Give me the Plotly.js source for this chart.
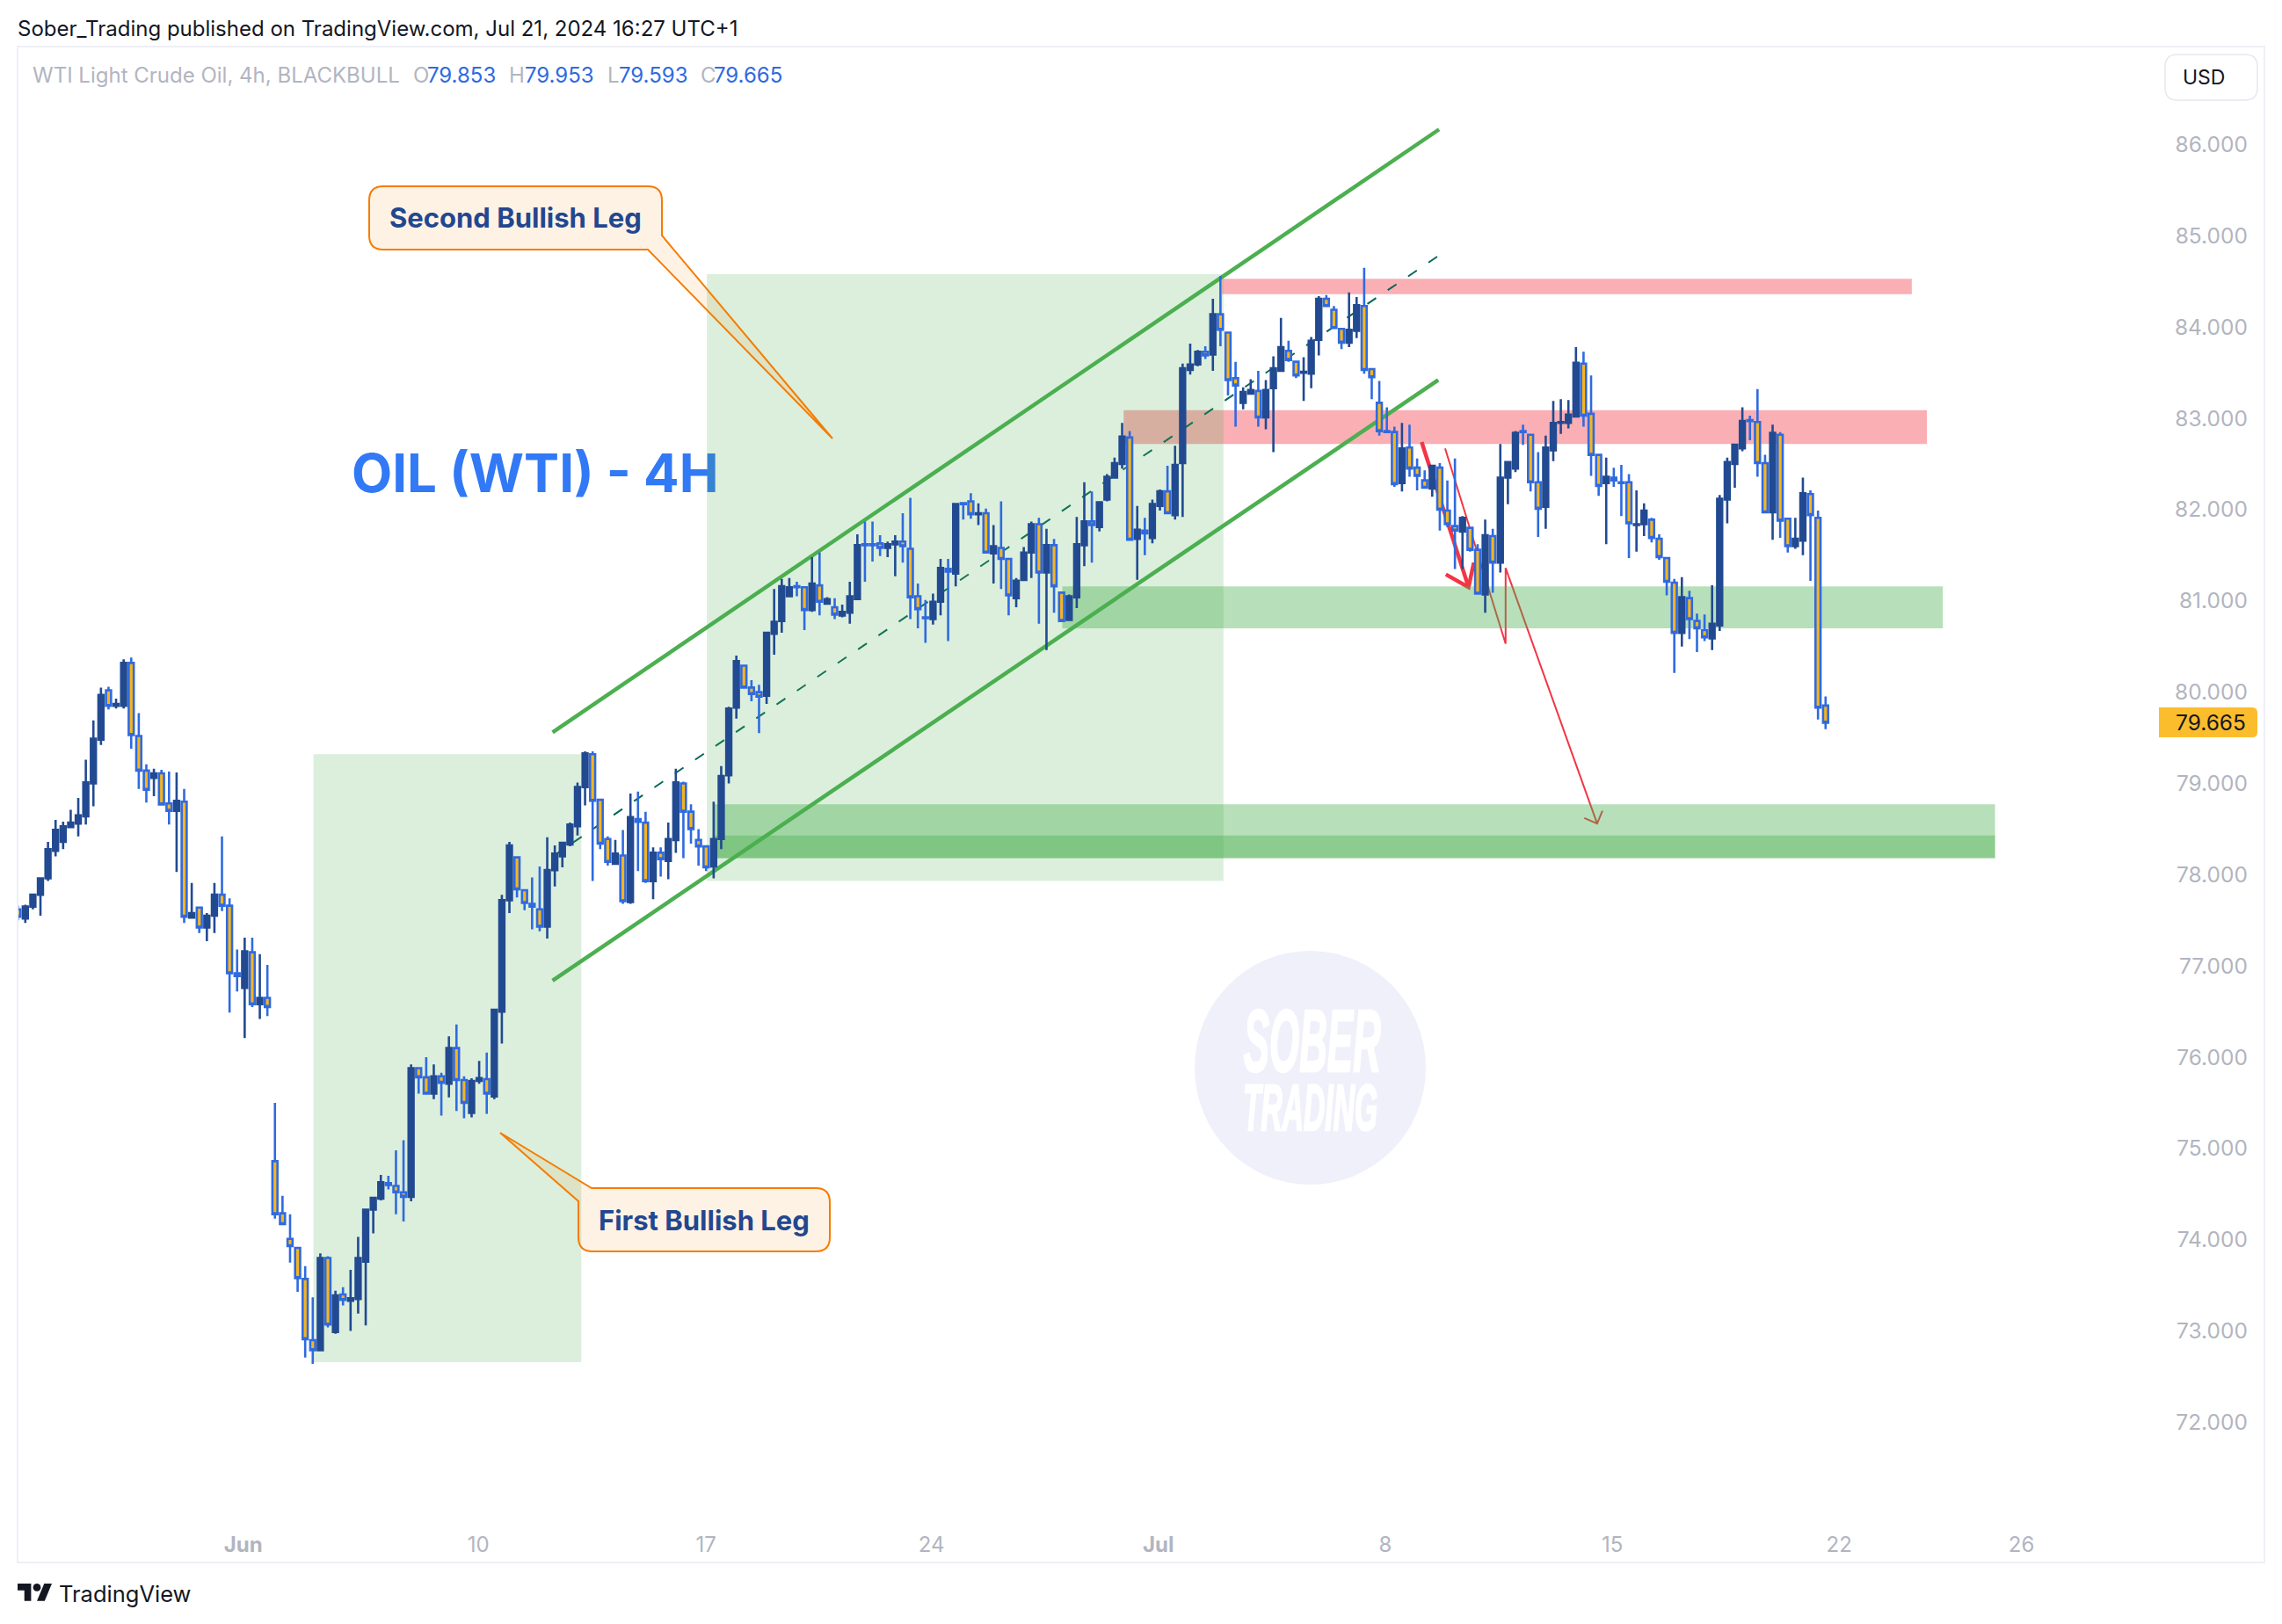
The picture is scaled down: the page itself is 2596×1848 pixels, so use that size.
<!DOCTYPE html>
<html>
<head>
<meta charset="utf-8">
<script src="https://cdn.plot.ly/plotly-3.0.1.min.js"></script>
<style>html,body{margin:0;padding:0;background:#fff}#chart{width:2596px;height:1848px}</style>
</head>
<body>
<div id="chart"></div>
<script>
const open = [77.62,77.52,77.65,77.78,77.96,78.26,78.36,78.52,78.56,78.64,
79.00,79.48,80.02,79.85,79.85,80.32,79.52,79.14,79.06,79.11,
78.78,78.70,78.80,77.53,77.64,77.42,77.55,77.78,77.66,76.92,
76.76,77.15,76.58,76.65,74.86,74.29,74.01,73.91,73.57,72.90,
72.79,73.80,72.99,73.40,73.33,73.35,73.76,74.33,74.45,74.62,
74.59,74.52,74.47,75.88,75.78,75.60,75.79,75.71,76.10,75.75,
75.39,75.74,75.76,75.57,76.50,77.72,78.19,77.83,77.68,77.62,
77.43,78.05,78.20,78.33,78.53,78.96,79.32,78.82,78.39,78.12,
78.21,77.70,78.61,78.57,77.93,78.24,78.15,78.38,79.00,78.69,
78.38,78.31,78.09,78.39,79.09,79.83,80.29,80.05,80.00,79.96,
80.64,80.78,81.05,81.16,81.15,80.90,81.17,80.97,80.93,80.84,
80.87,81.02,81.62,81.62,81.63,81.58,81.62,81.65,81.57,81.05,
80.82,80.80,80.99,81.35,81.30,82.07,82.09,81.95,81.96,81.52,
81.58,81.46,81.03,81.23,81.53,81.84,81.31,81.61,81.09,80.79,
81.04,81.61,81.87,81.81,82.11,82.35,82.50,82.79,81.68,81.77,
81.69,82.04,82.20,81.94,82.51,83.53,83.59,83.73,83.70,84.14,
83.94,83.44,83.17,83.27,83.30,83.01,83.33,83.52,83.74,83.62,
83.50,83.49,83.86,84.31,84.19,83.98,83.83,83.96,84.23,83.54,
83.17,82.86,82.85,82.29,82.68,82.46,82.32,82.23,82.46,81.99,
81.82,81.76,81.80,81.56,81.07,81.71,81.42,82.35,82.45,82.86,
82.82,82.30,82.03,82.65,82.95,82.95,83.02,83.60,83.05,82.60,
82.29,82.35,82.30,82.30,81.83,81.84,81.89,81.68,81.47,81.20,
80.65,81.03,80.78,80.68,80.59,80.73,82.11,82.50,82.67,82.98,
82.96,82.51,81.97,82.82,81.90,81.60,81.66,82.17,81.91,79.853];
const high = [77.66,77.67,77.78,77.97,78.36,78.60,78.58,78.71,78.84,79.26,
79.69,80.05,80.06,79.93,80.36,80.38,79.77,79.21,79.16,79.15,
79.13,79.12,78.94,77.91,77.64,77.58,77.91,78.42,77.74,77.18,
77.31,77.31,77.13,77.01,75.50,74.48,74.28,73.91,73.71,73.37,
73.85,73.82,73.44,73.48,73.67,74.03,74.34,74.47,74.71,74.70,
74.98,75.09,75.92,75.88,76.00,75.92,75.83,76.23,76.36,75.79,
75.77,75.96,76.05,76.53,77.78,78.36,78.20,77.84,77.97,78.09,
78.41,78.32,78.36,78.57,79.01,79.35,79.35,78.82,78.42,78.38,
78.49,78.89,78.91,78.69,78.30,78.30,78.57,79.16,79.02,78.77,
78.50,78.31,78.80,79.19,79.84,80.40,80.30,80.13,80.08,80.66,
81.13,81.24,81.25,81.21,81.16,81.48,81.53,81.04,81.03,80.96,
81.21,81.73,81.87,81.87,81.72,81.65,81.72,81.96,82.13,81.19,
81.01,81.08,81.46,81.46,82.07,82.07,82.18,82.07,82.01,81.83,
82.09,81.46,81.25,81.59,81.87,81.91,81.79,81.68,81.09,81.07,
81.92,82.30,82.20,82.08,82.39,82.57,82.95,82.86,82.04,81.91,
82.11,82.22,82.48,82.70,83.60,83.82,83.75,83.79,84.31,84.56,
83.94,83.62,83.34,83.43,83.52,83.42,83.68,84.10,83.85,83.62,
83.67,83.89,84.34,84.35,84.23,83.98,84.38,84.33,84.65,83.54,
83.41,83.12,82.91,82.95,82.93,82.56,82.43,82.49,82.51,82.32,
82.56,81.93,81.80,81.62,81.89,81.79,82.72,82.53,82.86,82.93,
82.82,82.63,82.81,83.19,83.21,83.20,83.78,83.73,83.47,82.60,
82.57,82.46,82.49,82.39,82.21,82.07,81.91,81.73,81.47,81.24,
81.26,81.11,80.86,80.85,81.17,82.16,82.57,82.71,83.12,83.03,
83.32,82.60,82.93,82.85,81.90,81.91,82.35,82.21,81.99,79.953];
const low = [77.50,77.47,77.62,77.55,77.93,78.20,78.28,78.52,78.42,78.55,
78.75,79.42,79.81,79.82,79.82,79.38,78.94,78.79,78.86,78.77,
78.55,78.03,77.47,77.53,77.36,77.27,77.36,77.60,76.49,76.72,
76.21,76.55,76.42,76.45,74.23,74.17,73.75,73.43,72.71,72.64,
72.79,73.04,72.97,73.28,73.00,73.19,73.06,74.07,74.43,74.55,
74.28,74.20,74.42,75.60,75.60,75.54,75.36,75.56,75.41,75.33,
75.34,75.71,75.38,75.54,76.15,77.58,77.75,77.61,77.40,77.38,
77.30,77.87,78.08,78.31,78.43,78.76,77.93,78.28,78.10,78.12,
77.68,77.68,78.04,77.91,77.73,77.98,77.95,78.24,78.18,78.34,
78.10,78.04,77.96,78.28,79.00,79.71,80.05,79.90,79.55,79.87,
80.41,80.65,81.05,81.05,80.68,80.88,80.84,80.97,80.80,80.82,
80.75,81.01,81.21,81.43,81.49,81.48,81.27,81.42,80.80,80.70,
80.54,80.74,80.84,80.56,81.16,81.89,81.90,81.83,81.52,81.19,
81.13,80.84,80.93,81.23,81.25,80.75,80.46,80.87,80.78,80.78,
80.92,81.38,81.42,81.76,82.09,82.35,82.45,81.67,81.23,81.50,
81.63,81.99,81.96,81.89,81.92,83.48,83.57,83.65,83.52,83.79,
83.25,82.91,83.10,83.27,82.91,82.88,82.63,83.51,83.62,83.44,
83.19,83.33,83.69,84.23,83.99,83.76,83.78,83.88,83.49,83.21,
82.81,82.84,82.25,82.20,82.36,82.21,82.23,82.14,81.77,81.81,
81.35,81.35,81.54,81.08,80.87,81.09,81.31,82.06,82.41,82.71,
82.20,81.70,81.79,82.53,82.83,82.89,83.02,82.91,82.37,82.15,
81.62,82.25,81.93,81.47,81.54,81.71,81.64,81.45,81.06,80.21,
80.50,80.58,80.44,80.56,80.46,80.67,81.85,82.24,82.64,82.76,
82.36,81.96,81.67,81.69,81.53,81.57,81.50,81.22,79.70,79.593];
const close = [77.54,77.65,77.78,77.96,78.28,78.49,78.53,78.57,78.65,79.01,
79.49,79.97,79.85,79.87,80.32,79.53,79.14,78.93,79.11,78.77,
78.70,78.81,77.54,77.58,77.42,77.55,77.78,77.66,76.92,76.89,
77.16,76.58,76.65,76.55,74.28,74.17,73.93,73.58,72.91,72.79,
73.80,73.07,73.39,73.34,73.36,73.80,74.33,74.46,74.63,74.60,
74.52,74.47,75.88,75.78,75.60,75.79,75.72,76.10,75.75,75.50,
75.74,75.77,75.60,76.52,77.72,78.32,77.84,77.69,77.65,77.43,
78.05,78.23,78.35,78.55,78.96,79.33,78.81,78.34,78.14,78.23,
77.71,78.63,78.58,77.93,78.24,78.17,78.39,79.01,78.69,78.50,
78.31,78.08,78.39,79.08,79.82,80.34,80.05,79.98,79.95,80.65,
80.77,81.16,81.15,81.15,80.90,81.19,80.99,81.02,80.85,80.88,
81.05,81.61,81.61,81.61,81.58,81.62,81.65,81.60,81.04,80.91,
80.81,80.99,81.36,81.32,82.06,82.06,81.95,81.96,81.53,81.60,
81.46,81.06,81.22,81.53,81.84,81.31,81.61,81.16,80.78,81.05,
81.62,81.87,81.83,82.08,82.36,82.51,82.80,81.67,81.78,81.74,
82.06,82.20,81.96,82.49,83.55,83.59,83.73,83.69,84.14,83.97,
83.42,83.36,83.29,83.31,83.01,83.31,83.55,83.78,83.64,83.47,
83.51,83.85,84.31,84.23,83.99,83.83,83.97,84.24,83.53,83.45,
82.86,82.85,82.28,82.67,82.45,82.37,82.24,82.48,82.00,81.84,
81.77,81.91,81.56,81.08,81.72,81.42,82.35,82.52,82.84,82.85,
82.30,82.01,82.68,82.95,82.96,83.04,83.61,83.03,82.60,82.26,
82.36,82.32,82.29,81.85,81.84,81.99,81.69,81.48,81.21,80.65,
81.04,80.80,80.70,80.60,80.75,82.12,82.52,82.71,82.97,82.97,
82.51,81.97,82.84,81.88,81.60,81.68,82.18,81.94,79.83,79.665];
const barIndex = open.map((_, i) => i);

const priceTicks = [86,85,84,83,82,81,80,79,78,77,76,75,74,73,72];
const dateTickBars = [1.72,29.8,60.9,91.0,120.8,150.8,180.8,210.8,240.8,264.9];
const dateTickLabels = ['27','<b>Jun</b>','10','17','24','<b>Jul</b>','8','15','22','26'];

// drawings, as [bar, price]
const channelUpper = [[70.7,79.56],[187.9,86.166]];
const channelLower = [[70.7,76.84],[187.8,83.42]];
const channelMiddle = [[70.7,78.20],[187.8,84.78]];
const boxFirstLeg = [39.1,74.5,72.66,79.32];
const boxSecondLeg = [91.1,159.4,77.93,84.58];
const redZoneTop = [159.2,250.4,84.36,84.53];
const redZoneMid = [146.2,252.4,82.72,83.09];
const greenZoneMid = [138.1,254.5,80.70,81.16];
const greenZoneLowA = [92.1,261.4,78.18,78.77];
const greenZoneLowB = [92.1,261.4,78.18,78.43];
const arrowThick = [[185.6,82.74],[191.8,81.15]];
const arrowThickHead = [[188.8,81.29],[191.8,81.15],[192.5,81.42]];
const arrowThin = [[188.7,82.67],[196.7,80.53],[196.7,81.36],[208.8,78.56]];
const arrowThinHead = [[207.1,78.62],[208.8,78.56],[209.5,78.70]];

const L = 21, R = 2575, T = 54, B = 1777, W = 2596, H = 1848;
const PX = p => (p - L) / (R - L), PY = p => 1 - (p - T) / (B - T);
const poly = pts => 'M ' + pts.map(p => p[0] + ',' + p[1]).join(' L ');
const pathPaper = segs => segs.map(s => {
  if (s[0] === 'Z') return 'Z';
  const c = [];
  for (let i = 1; i < s.length; i += 2) c.push(PX(s[i]) + ',' + PY(s[i + 1]));
  return s[0] + ' ' + c.join(' ');
}).join(' ');
const rect = (b, color) => ({type:'rect',layer:'below',xref:'x',yref:'y',x0:b[0],x1:b[1],y0:b[2],y1:b[3],fillcolor:color,line:{width:0}});
const line = (pts, color, width, dash) => ({type:'path',layer:'below',xref:'x',yref:'y',path:poly(pts),line:{color,width,dash:dash||'solid'}});
const G2 = 'rgba(76,175,80,0.2)', G4 = 'rgba(76,175,80,0.4)', RD = 'rgba(242,54,69,0.4)';
const orange = '#f57c00', bubble = 'rgba(245,124,0,0.1)';

const shapes = [
  {type:'circle',layer:'below',xref:'paper',yref:'paper',x0:PX(1359),x1:PX(1622),y0:PY(1348),y1:PY(1082),fillcolor:'#f0f0fb',line:{width:0}},
  rect(redZoneTop, RD), rect(redZoneMid, RD),
  line(arrowThick,'#f23645',4.5), line(arrowThickHead,'#f23645',4.5),
  line(arrowThin,'#f23645',2), line(arrowThinHead,'#f23645',2),
  line(channelUpper,'#4caf50',4.5), line(channelLower,'#4caf50',4.5),
  line(channelMiddle,'#056656',2,'12px,16px'),
  {type:'rect',layer:'below',xref:'x',yref:'y',x0:40.3,x1:96.5,y0:82.0,y1:82.84,fillcolor:'rgba(0,0,0,0)',line:{width:0},
   label:{text:'OIL (WTI) - 4H',textposition:'middle center',font:{family:'Inter, sans-serif',size:60,color:'#3179f5',weight:700}}},
  rect(boxFirstLeg, G2), rect(boxSecondLeg, G2),
  rect(greenZoneMid, G4), rect(greenZoneLowA, G4), rect(greenZoneLowB, G4),
  {type:'path',layer:'above',xref:'paper',yref:'paper',fillcolor:bubble,line:{color:orange,width:2},
   path:pathPaper([['M',436,212],['L',737,212],['Q',753,212,753,228],['L',753,268],['L',947,499],['L',737,284],['L',436,284],['Q',420,284,420,268],['L',420,228],['Q',420,212,436,212],['Z']])},
  {type:'path',layer:'above',xref:'paper',yref:'paper',fillcolor:bubble,line:{color:orange,width:2},
   path:pathPaper([['M',673,1352],['L',928,1352],['Q',944,1352,944,1368],['L',944,1408],['Q',944,1424,928,1424],['L',674,1424],['Q',658,1424,658,1408],['L',658,1367],['L',569,1289],['Z']])},
  {type:'path',layer:'above',xref:'paper',yref:'paper',fillcolor:'#ffffff',line:{color:'#e6e8ef',width:1.5},
   path:pathPaper([['M',2477,62],['L',2554,62],['Q',2568,62,2568,76],['L',2568,100],['Q',2568,114,2554,114],['L',2477,114],['Q',2463,114,2463,100],['L',2463,76],['Q',2463,62,2477,62],['Z']])},
  {type:'path',layer:'above',xref:'paper',yref:'paper',fillcolor:'#fcbd2c',line:{width:0},
   path:pathPaper([['M',2456,805],['L',2562,805],['Q',2568,805,2568,811],['L',2568,833],['Q',2568,839,2562,839],['L',2456,839],['Z']])},
  // TradingView mark
  {type:'path',layer:'above',xref:'paper',yref:'paper',fillcolor:'#131722',line:{width:0},
   path:pathPaper([['M',35.4,1821.8],['L',27.7,1821.8],['L',27.7,1809.7],['L',20,1809.7],['L',20,1802],['L',35.4,1802],['Z']])},
  {type:'path',layer:'above',xref:'paper',yref:'paper',fillcolor:'#131722',line:{width:0},
   path:pathPaper([['M',50.8,1821.8],['L',42,1821.8],['L',50.3,1802],['L',59,1802],['Z']])},
  {type:'circle',layer:'above',xref:'paper',yref:'paper',x0:PX(37.6),x1:PX(46.4),y0:PY(1810.8),y1:PY(1802),fillcolor:'#131722',line:{width:0}}
];

const note = (text, x, y, size, color, anchor, extra) => Object.assign({
  text, xref:'paper', yref:'paper', x:PX(x), y:PY(y), xanchor:anchor||'left', yanchor:'middle',
  showarrow:false, borderpad:0, font:{family:'Inter, sans-serif', size, color}
}, extra||{});
const gray = '#b2b5c1', blue = '#2f6ae0';
const annotations = [
  note('Sober_Trading published on TradingView.com, Jul 21, 2024 16:27 UTC+1',19,32,24,'#131722'),
  note('WTI Light Crude Oil, 4h, BLACKBULL',36,86,24,gray),
  note('O',469,86,24,gray), note('79.853',485,86,24,blue),
  note('H',578,86,24,gray), note('79.953',596,86,24,blue),
  note('L',690,86,24,gray), note('79.593',703,86,24,blue),
  note('C',796,86,24,gray), note('79.665',811,86,24,blue),
  note('USD',2507,88,23,'#131722','center'),
  note('79.665',2515,822,24.5,'#131722','center'),
  note('<b>Second Bullish Leg</b>',586,247,31,'#22478f','center'),
  note('<b>First Bullish Leg</b>',801,1388,31,'#22478f','center'),
  note('TradingView',66,1814,25.5,'#131722'),
  note('<b><i>SOBER</i></b>',1493,1184,100,'#ffffff','center',{font:{family:'Liberation Sans Narrow, Liberation Sans, sans-serif',size:100,color:'#ffffff'}}),
  note('<b><i>TRADING</i></b>',1490,1260,74,'#ffffff','center',{font:{family:'Liberation Sans Narrow, Liberation Sans, sans-serif',size:74,color:'#ffffff'}})
];

const trace = {
  type:'candlestick', x:barIndex, open, high, low, close, whiskerwidth:0, hoverinfo:'skip',
  increasing:{line:{color:'#224a91',width:2.6},fillcolor:'#224a91'},
  decreasing:{line:{color:'#2f6ae0',width:2.6},fillcolor:'#f7b51d'}
};

const layout = {
  width:W, height:H, paper_bgcolor:'#ffffff', plot_bgcolor:'#ffffff', showlegend:false, hovermode:false, dragmode:false,
  margin:{l:L,r:W-R,t:T,b:H-B,pad:0},
  boxgap:0, boxgroupgap:0.33,
  font:{family:'Inter, sans-serif',size:24,color:'#b2b5bf'},
  xaxis:{range:[0.093,296.9],rangeslider:{visible:false},tickmode:'array',tickvals:dateTickBars,ticktext:dateTickLabels,
    ticks:'',showgrid:false,zeroline:false,showline:true,mirror:true,linecolor:'#eeeff6',linewidth:2,
    ticklabelposition:'inside',tickfont:{size:24,color:'#b2b5bf'},ticklabelstandoff:8},
  yaxis:{side:'right',range:[70.473,87.064],tickmode:'array',tickvals:priceTicks,ticktext:priceTicks.map(v=>v.toFixed(3)),
    ticks:'',showgrid:false,zeroline:false,showline:true,mirror:true,linecolor:'#eeeff6',linewidth:2,
    ticklabelposition:'inside',tickfont:{size:24.5,color:'#b2b5bf'},ticklabelstandoff:20},
  shapes, annotations
};

Plotly.newPlot('chart',[trace],layout,{staticPlot:true,displayModeBar:false}).then(() => {
  document.querySelectorAll('.annotation-text').forEach(t => {
    const s = t.textContent;
    if (s === 'SOBER' || s === 'TRADING') {
      t.setAttribute('textLength', s === 'SOBER' ? 156 : 153);
      t.setAttribute('lengthAdjust', 'spacingAndGlyphs');
      t.style.stroke = '#ffffff';
      t.style.strokeWidth = '2.5px';
    }
  });
});
</script>
</body>
</html>
